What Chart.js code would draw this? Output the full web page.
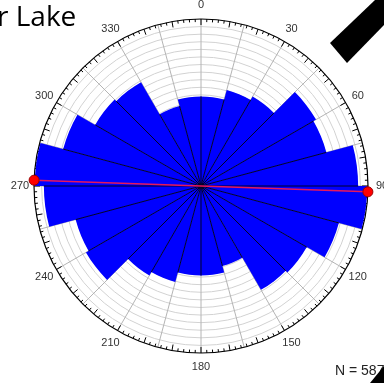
<!DOCTYPE html>
<html>
<head>
<meta charset="utf-8">
<script src="https://cdn.jsdelivr.net/npm/chart.js@4.4.1/dist/chart.umd.min.js"></script>
<style>
  html, body { margin: 0; padding: 0; width: 384px; height: 383px; overflow: hidden; background: #fff; }
  #wrap { position: absolute; left: 0; top: 0; width: 384px; height: 383px; }
  .title { position: absolute; left: -3px; top: -4px; font: 28px "Open Sans", sans-serif; color: #000; white-space: nowrap; }
  .count { position: absolute; left: 335px; top: 362px; font: 14px "Liberation Sans", Arial, sans-serif; color: #222; white-space: nowrap; }
  .arrow1, .arrow2 { position: absolute; left: 0; top: 0; width: 384px; height: 383px; background: #000; }
  .arrow1 { clip-path: polygon(330px 43px, 375px 0px, 384px 0px, 384px 25px, 347px 63px); }
  .arrow2 { clip-path: polygon(370px 383px, 384px 366px, 384px 383px); }
</style>
</head>
<body>
<div id="wrap"><canvas id="myChart"></canvas></div>
<div class="title">r Lake</div>
<div class="count">N = 587</div>
<div class="arrow1"></div>
<div class="arrow2"></div>
<script>
// 15 degree bins, clockwise from north
const bins = ['0-15', '15-30', '30-45', '45-60', '60-75', '75-90',
    '90-105', '105-120', '120-135', '135-150', '150-165', '165-180',
    '180-195', '195-210', '210-225', '225-240', '240-255', '255-270',
    '270-285', '285-300', '300-315', '315-330', '330-345', '345-360'];
const freq = [11.8, 13.1, 13.6, 17.5, 17.1, 20.7,
    21.9, 18.8, 16.1, 15.8, 10.9, 11.8,
    11.8, 13.1, 13.6, 17.5, 17.1, 20.7,
    21.9, 18.8, 16.1, 15.8, 10.9, 11.8];
const angleLabels = ['0', '30', '60', '90', '120', '150', '180', '210', '240', '270', '300', '330'];
const meanDir = 92;
const rMax = 22;

const roseDecor = {
    id: 'roseDecor',
    beforeDatasetsDraw(chart) {
        const s = chart.scales.r, c = chart.ctx;
        const R = s.drawingArea, cx = s.xCenter, cy = s.yCenter;
        c.save();
        c.strokeStyle = '#000';
        c.lineWidth = 1.2;
        c.beginPath();
        c.arc(cx, cy, R, 0, Math.PI * 2);
        c.stroke();
        c.lineWidth = 1;
        for (let d = 0; d < 360; d += 2) {
            const a = (d - 90) * Math.PI / 180;
            const len = d % 10 === 0 ? 6 : 3;
            c.beginPath();
            c.moveTo(cx + Math.cos(a) * R, cy + Math.sin(a) * R);
            c.lineTo(cx + Math.cos(a) * (R - len), cy + Math.sin(a) * (R - len));
            c.stroke();
        }
        c.fillStyle = '#333';
        c.font = '11px "Liberation Sans", Arial, sans-serif';
        c.textAlign = 'center';
        c.textBaseline = 'middle';
        angleLabels.forEach((t, i) => {
            const p = s.getPointPosition(i * 2, R + 14);
            c.fillText(t, p.x, p.y);
        });
        c.restore();
    },
    afterDatasetsDraw(chart) {
        const s = chart.scales.r, c = chart.ctx;
        const R = s.drawingArea, cx = s.xCenter, cy = s.yCenter;
        c.save();
        // separators between bars
        c.strokeStyle = '#000028';
        c.lineWidth = 1;
        for (let i = 0; i < freq.length; i++) {
            const v = Math.min(freq[i], freq[(i + freq.length - 1) % freq.length]);
            const p = s.getPointPositionForValue(i, v);
            c.beginPath();
            c.moveTo(cx, cy);
            c.lineTo(p.x, p.y);
            c.stroke();
        }
        // mean direction
        const a = (meanDir - 90) * Math.PI / 180;
        const x1 = cx + Math.cos(a) * R, y1 = cy + Math.sin(a) * R;
        const x2 = cx - Math.cos(a) * R, y2 = cy - Math.sin(a) * R;
        c.strokeStyle = '#e8185a';
        c.lineWidth = 1.5;
        c.beginPath();
        c.moveTo(x2, y2);
        c.lineTo(x1, y1);
        c.stroke();
        c.fillStyle = '#ff0000';
        c.strokeStyle = '#990000';
        c.lineWidth = 1;
        [[x1, y1], [x2, y2]].forEach(([x, y]) => {
            c.beginPath();
            c.arc(x, y, 5, 0, Math.PI * 2);
            c.fill();
            c.stroke();
        });
        c.restore();
    }
};

const ctx = document.getElementById('myChart').getContext('2d');
const myChart = new Chart(ctx, {
    type: 'polarArea',
    data: {
        labels: bins,
        datasets: [{
            data: freq,
            backgroundColor: '#0000ff',
            borderWidth: 0
        }]
    },
    options: {
        responsive: true,
        maintainAspectRatio: false,
        animation: false,
        layout: { padding: { left: 34, top: 19, right: 16, bottom: 30 } },
        plugins: { legend: { display: false }, tooltip: { enabled: false } },
        scales: {
            r: {
                min: 0,
                max: rMax,
                ticks: { display: false, stepSize: 1 },
                grid: {
                    color: (c) => c.tick && c.tick.value === rMax ? 'rgba(0,0,0,0)' : '#d2d2d2',
                    lineWidth: 1
                },
                angleLines: { display: true, color: '#b4b4b4', lineWidth: 1 },
                pointLabels: { display: false }
            }
        }
    },
    plugins: [roseDecor]
});
</script>
</body>
</html>
